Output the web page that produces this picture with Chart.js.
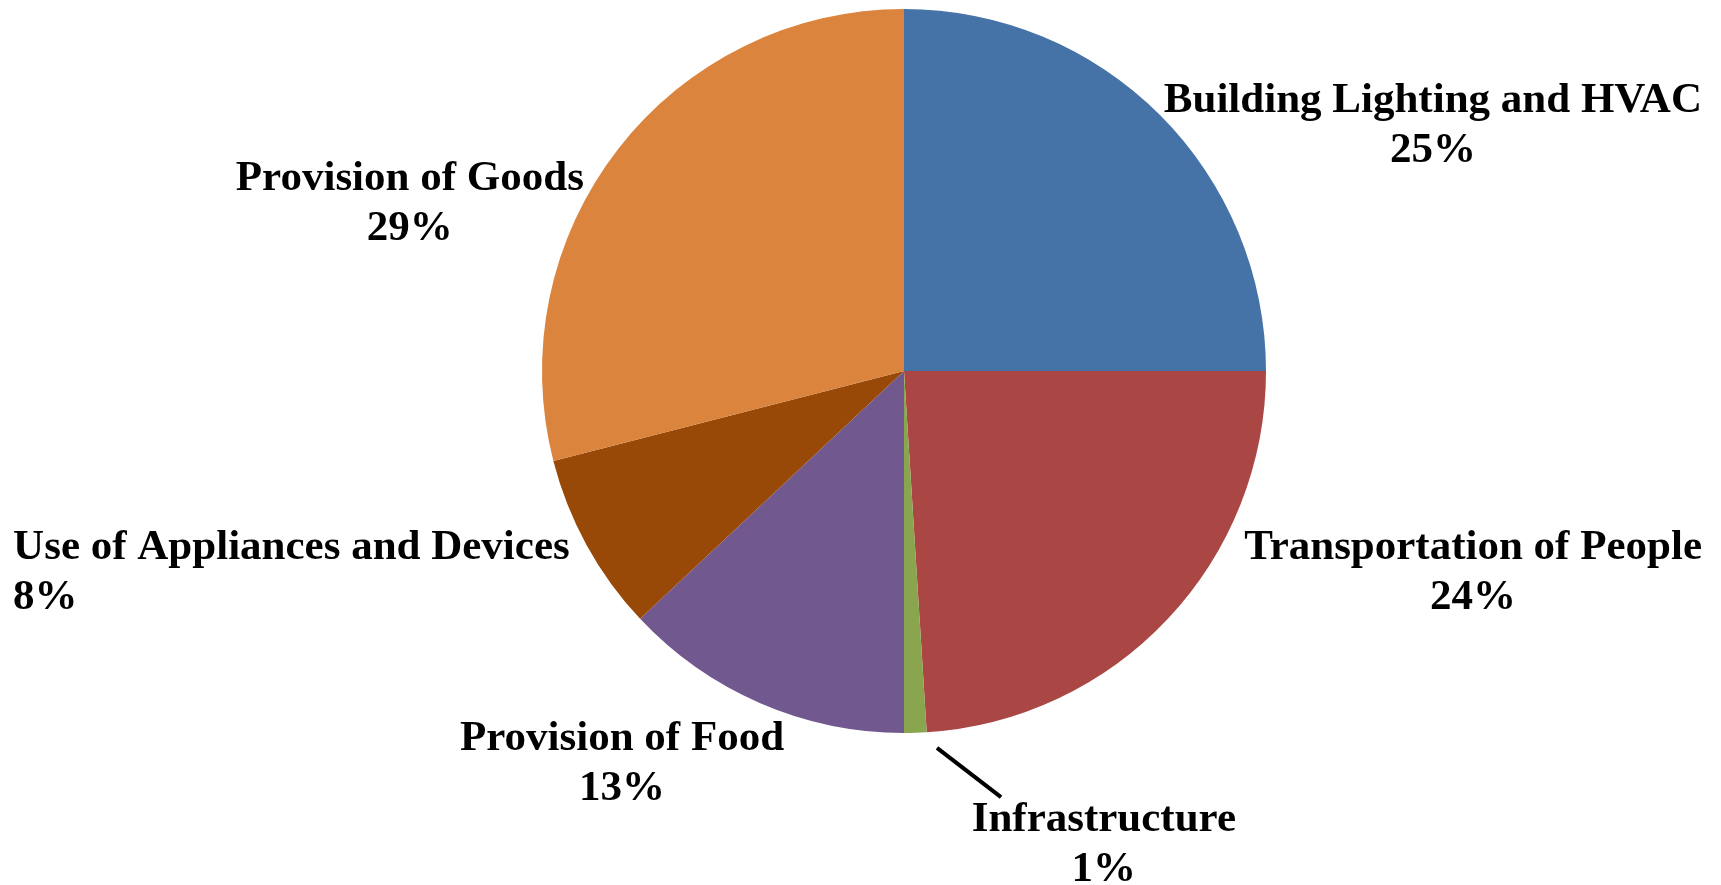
<!DOCTYPE html>
<html lang="en">
<head>
    <meta charset="UTF-8">
    <title>Energy use by category</title>
    <script src="https://cdn.jsdelivr.net/npm/chart.js"></script>
    <style>
        body {
            margin: 0;
            background-color: #ffffff;
        }

        .chart-box {
            width: 1721px;
            height: 885px;
        }
    </style>
</head>
<body>
    <div class="chart-box">
        <canvas id="grafico"></canvas>
    </div>

    <script>
        // dados (sentido horário a partir do topo)
        const categorias = [
            "Building Lighting and HVAC",
            "Transportation of People",
            "Infrastructure",
            "Provision of Food",
            "Use of Appliances and Devices",
            "Provision of Goods"
        ];
        const percentuais = [25, 24, 1, 13, 8, 29];
        const cores = ["#4572A7", "#AA4643", "#89A54E", "#71588F", "#984807", "#DB843D"];

        // posição dos rótulos em unidades do raio, relativo ao centro da pizza
        const posRotulos = [
            { x: 1.461, y: -0.676, align: "center" },
            { x: 1.572, y: 0.558, align: "center" },
            { x: 0.552, y: 1.310, align: "center" },
            { x: -0.779, y: 1.086, align: "center" },
            { x: -2.461, y: 0.558, align: "left" },
            { x: -1.365, y: -0.461, align: "center" }
        ];
        // linha guia do rótulo "Infrastructure"
        const linhaGuia = { indice: 2, de: [0.091, 1.041], ate: [0.268, 1.177] };

        const rotulosPlugin = {
            id: "rotulos",
            afterDatasetsDraw(chart) {
                const arc = chart.getDatasetMeta(0).data[0];
                const cx = arc.x, cy = arc.y, r = arc.outerRadius;
                const ctx = chart.ctx;
                ctx.save();
                ctx.fillStyle = "#000";
                ctx.font = "bold 43px 'Liberation Serif', 'Times New Roman', serif";
                ctx.textBaseline = "middle";
                const linha = 50;
                categorias.forEach((nome, i) => {
                    const p = posRotulos[i];
                    const x = cx + p.x * r;
                    const y = cy + p.y * r;
                    ctx.textAlign = p.align;
                    ctx.fillText(nome, x, y - linha / 2);
                    ctx.fillText(percentuais[i] + "%", x, y + linha / 2);
                });
                // linha guia
                ctx.strokeStyle = "#000";
                ctx.lineWidth = 4;
                ctx.beginPath();
                ctx.moveTo(cx + linhaGuia.de[0] * r, cy + linhaGuia.de[1] * r);
                ctx.lineTo(cx + linhaGuia.ate[0] * r, cy + linhaGuia.ate[1] * r);
                ctx.stroke();
                ctx.restore();
            }
        };

        const ctx = document.getElementById("grafico").getContext("2d");
        const chart = new Chart(ctx, {
            type: "pie",
            data: {
                labels: categorias,
                datasets: [{
                    data: percentuais,
                    backgroundColor: cores,
                    borderWidth: 0
                }]
            },
            options: {
                responsive: true,
                maintainAspectRatio: false,
                animation: false,
                layout: {
                    padding: { left: 542, right: 455, top: 9, bottom: 152 }
                },
                plugins: {
                    legend: { display: false },
                    tooltip: { enabled: false }
                }
            },
            plugins: [rotulosPlugin]
        });
    </script>
</body>
</html>
